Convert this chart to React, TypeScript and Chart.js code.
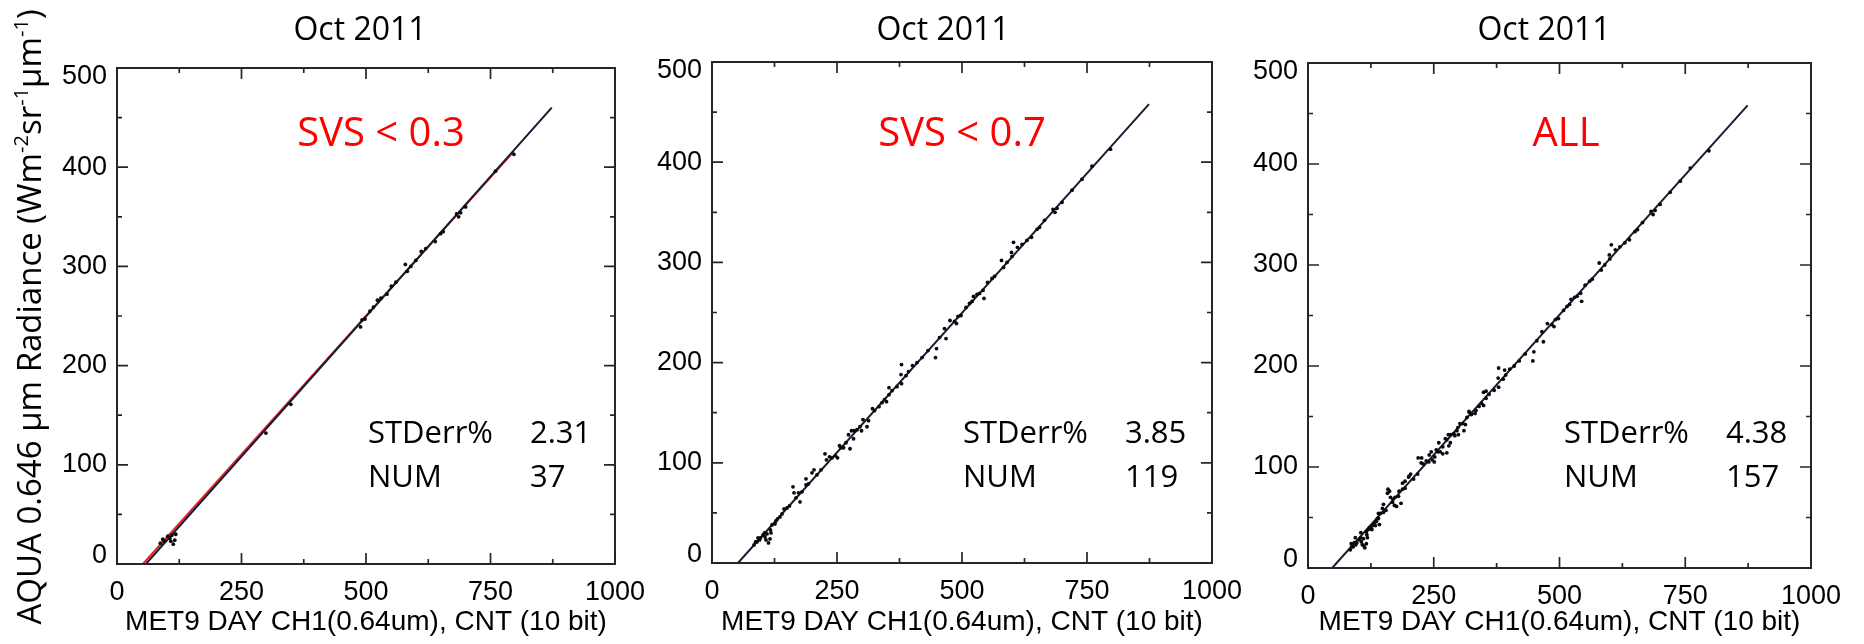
import React, { useEffect, useRef } from "react";
import { Chart, registerables } from "chart.js";

Chart.register(...registerables);

// ---------- data ----------
const xMajorTicks = [0, 250, 500, 750, 1000];
const xMinorTicks = [125, 375, 625, 875];
const yMajorTicks = [0, 100, 200, 300, 400, 500];
const yMinorTicks = [50, 150, 250, 350, 450];

const panelTitles = ["Oct 2011", "Oct 2011", "Oct 2011"];
const panelLabels = ["SVS < 0.3", "SVS < 0.7", "ALL"];
const stdErrValues = ["2.31", "3.85", "4.38"];
const numValues = ["37", "119", "157"];

const xAxisTitle = "MET9 DAY CH1(0.64um), CNT (10 bit)";
const yAxisTitleParts: [string, boolean][] = [
  ["AQUA 0.646 \u00B5m Radiance (Wm", false],
  ["-2", true],
  ["sr", false],
  ["-1", true],
  ["\u00B5m", false],
  ["-1", true],
  [")", false],
];

// points with SVS < 0.3 (37)
const svs03Points: [number, number][] = [
  [87, 21], [92, 25], [95, 23], [102, 28], [106, 26], [108, 23], [110, 29], [113, 20], [116, 24], [118, 30],
  [299, 132], [349, 161],
  [489, 239], [492, 246], [498, 247], [508, 255], [515, 259], [523, 266], [530, 268], [542, 272], [551, 280], [560, 284],
  [579, 302], [583, 295], [590, 300], [600, 306], [611, 315], [620, 318], [639, 325], [650, 333], [655, 335], [682, 353],
  [686, 350], [690, 354], [700, 360], [760, 396], [797, 413],
];

// additional points with 0.3 <= SVS < 0.7 (82)
const svs07ExtraPoints: [number, number][] = [
  [117, 33], [126, 39], [128, 42], [136, 46], [144, 54], [162, 76], [164, 70], [173, 70], [176, 61], [188, 84],
  [188, 78], [200, 90], [204, 93], [226, 109], [229, 103], [235, 106], [247, 107], [251, 105], [255, 117], [263, 115],
  [273, 128], [276, 114], [279, 132], [284, 132], [283, 124], [310, 136], [313, 142], [302, 143], [321, 154], [334, 156],
  [354, 175], [354, 168], [370, 176], [378, 188], [379, 179], [379, 198], [393, 191], [401, 197], [447, 205], [449, 214],
  [465, 234], [468, 224], [476, 242], [544, 264], [599, 310], [603, 320],
  [84, 18], [90, 21], [97, 25], [105, 30], [120, 38], [131, 44], [140, 49], [150, 55], [155, 57], [168, 65],
  [180, 71], [193, 79], [210, 88], [218, 93], [240, 105], [258, 115], [268, 120], [290, 133], [296, 136], [325, 152],
  [340, 160], [345, 163], [360, 172], [388, 187], [410, 200], [420, 205], [432, 212], [455, 225], [485, 241], [520, 261],
  [535, 269], [565, 286], [630, 322], [665, 342], [720, 372], [740, 383],
];

// additional points with SVS >= 0.7 (38)
const allExtraPoints: [number, number][] = [
  [86, 24], [94, 30], [105, 35], [111, 22], [116, 36], [122, 40], [127, 38], [134, 42], [138, 49], [142, 43],
  [140, 54], [148, 59], [150, 63], [158, 74], [159, 78], [169, 68], [172, 62], [181, 76], [185, 64], [193, 86],
  [201, 91], [219, 109], [225, 104], [241, 112], [245, 115], [252, 110], [260, 124], [268, 113], [276, 127], [280, 121],
  [292, 131], [298, 139], [308, 143], [316, 149], [320, 155], [332, 153], [349, 174], [391, 196],
];

// fitted lines
const fitSvs03: [number, number][] = [[58, 0], [873, 460]];
const redFitSvs03: [number, number][] = [[52, 0], [797, 416]];
const fitSvs07: [number, number][] = [[52, 0], [874, 458]];
const fitAll: [number, number][] = [[48, 0], [874, 458]];

// ---------- layout ----------
const PAGE_H = 644;
const AXIS_W = 117;
const RIGHT_PAD = 45;
const panelBoxes = [
  { left: 117, right: 615, top: 68, bottom: 564, titleX: 360, labelX: 381, statX: 368, valX: 530 },
  { left: 712, right: 1212, top: 62, bottom: 563, titleX: 943, labelX: 962, statX: 963, valX: 1125 },
  { left: 1308, right: 1811, top: 63, bottom: 568, titleX: 1544, labelX: 1566, statX: 1564, valX: 1726 },
];

const TICK_FONT = "'Liberation Sans', Arial, sans-serif";
const TEXT_FONT = "'Open Sans', sans-serif";

const toXY = (pts: [number, number][]) => pts.map(([x, y]) => ({ x, y }));

const framePlugin = {
  id: "frameTicks",
  afterDatasetsDraw(chart: any) {
    const { ctx, chartArea: a, scales } = chart;
    const xs = scales.x;
    const ys = scales.y;
    ctx.save();
    ctx.strokeStyle = "#262626";
    ctx.lineWidth = 2;
    ctx.strokeRect(a.left, a.top, a.right - a.left, a.bottom - a.top);
    ctx.lineWidth = 1.7;
    ctx.beginPath();
    const drawX = (vals: number[], len: number) => {
      vals.forEach((v) => {
        const px = xs.getPixelForValue(v);
        ctx.moveTo(px, a.bottom);
        ctx.lineTo(px, a.bottom - len);
        ctx.moveTo(px, a.top);
        ctx.lineTo(px, a.top + len);
      });
    };
    const drawY = (vals: number[], len: number) => {
      vals.forEach((v) => {
        const py = ys.getPixelForValue(v);
        ctx.moveTo(a.left, py);
        ctx.lineTo(a.left + len, py);
        ctx.moveTo(a.right, py);
        ctx.lineTo(a.right - len, py);
      });
    };
    drawX(xMajorTicks, 11);
    drawX(xMinorTicks, 5);
    drawY(yMajorTicks, 11);
    drawY(yMinorTicks, 5);
    ctx.stroke();
    ctx.restore();
  },
};

const innerLabelPlugin = {
  id: "innerYLabels",
  beforeDraw(chart: any) {
    const ys = chart.scales.y;
    const items = ys.getLabelItems(chart.chartArea);
    if (!items || !items.length) return;
    const first = items[0];
    const last = items[items.length - 1];
    if (!first._shifted) {
      first.options.translation[1] -= 8;
      first._shifted = true;
    }
    if (!last._shifted) {
      last.options.translation[1] += 9;
      last._shifted = true;
    }
  },
};

const annotPlugin = {
  id: "annot",
  afterDraw(chart: any, _args: any, opts: any) {
    const idx = opts.idx as number;
    const box = panelBoxes[idx];
    const off = box.left - AXIS_W;
    const ctx = chart.ctx;
    ctx.save();
    ctx.textBaseline = "alphabetic";
    // title
    ctx.fillStyle = "#000";
    ctx.font = `32px ${TEXT_FONT}`;
    ctx.textAlign = "center";
    ctx.fillText(panelTitles[idx], box.titleX - off, 40);
    // red label
    ctx.fillStyle = "#ff0000";
    ctx.font = `40px ${TEXT_FONT}`;
    ctx.fillText(panelLabels[idx], box.labelX - off, 146);
    // stats
    ctx.fillStyle = "#000";
    ctx.font = `31px ${TEXT_FONT}`;
    ctx.textAlign = "left";
    ctx.fillText("STDerr%", box.statX - off, 443);
    ctx.fillText(stdErrValues[idx], box.valX - off, 443);
    ctx.fillText("NUM", box.statX - off, 487);
    ctx.fillText(numValues[idx], box.valX - off, 487);
    // y title (first panel only)
    if (idx === 0) {
      const mainFont = `33px ${TEXT_FONT}`;
      const supFont = `20px ${TEXT_FONT}`;
      let total = 0;
      const widths = yAxisTitleParts.map(([t, sup]) => {
        ctx.font = sup ? supFont : mainFont;
        const w = ctx.measureText(t).width;
        total += w;
        return w;
      });
      ctx.translate(41 - off, 317);
      ctx.rotate(-Math.PI / 2);
      let x = -total / 2;
      yAxisTitleParts.forEach(([t, sup], i) => {
        ctx.font = sup ? supFont : mainFont;
        ctx.fillText(t, x, sup ? -13 : 0);
        x += widths[i];
      });
    }
    ctx.restore();
  },
};

function Panel({ idx }: { idx: number }) {
  const ref = useRef<HTMLCanvasElement>(null);
  const box = panelBoxes[idx];
  const canvasLeft = box.left - AXIS_W;
  const canvasW = AXIS_W + (box.right - box.left) + RIGHT_PAD;

  useEffect(() => {
    if (!ref.current) return;
    let pts: [number, number][] = svs03Points;
    if (idx >= 1) pts = pts.concat(svs07ExtraPoints);
    if (idx >= 2) pts = pts.concat(allExtraPoints);
    const fit = idx === 0 ? fitSvs03 : idx === 1 ? fitSvs07 : fitAll;

    const datasets: any[] = [
      {
        label: "points",
        data: toXY(pts),
        pointRadius: 1.9,
        pointBackgroundColor: "#0a0a0a",
        pointBorderWidth: 0,
        showLine: false,
      },
      {
        label: "fit",
        data: toXY(fit),
        showLine: true,
        borderColor: "#141c36",
        borderWidth: 2,
        pointRadius: 0,
        fill: false,
      },
    ];
    if (idx === 0) {
      datasets.push({
        label: "fit red",
        data: toXY(redFitSvs03),
        showLine: true,
        borderColor: "#ee2222",
        borderWidth: 2,
        pointRadius: 0,
        fill: false,
      });
    }

    const tickFont = { family: TICK_FONT, size: 27 };
    const chart = new Chart(ref.current, {
      type: "scatter",
      data: { datasets },
      plugins: [framePlugin, innerLabelPlugin, annotPlugin],
      options: {
        animation: false,
        responsive: false,
        maintainAspectRatio: false,
        events: [],
        layout: { padding: { top: box.top, right: RIGHT_PAD, left: 0, bottom: 0 } },
        plugins: {
          legend: { display: false },
          tooltip: { enabled: false },
          title: { display: false },
          annot: { idx },
        } as any,
        scales: {
          x: {
            type: "linear",
            position: "bottom",
            min: 0,
            max: 1000,
            grid: { display: false, drawTicks: false },
            border: { display: false },
            ticks: {
              stepSize: 250,
              font: tickFont,
              color: "#000",
              padding: 12,
              maxRotation: 0,
              autoSkip: false,
              callback: (v: any) => String(v),
            },
            title: {
              display: true,
              text: xAxisTitle,
              font: { family: TICK_FONT, size: 28 },
              color: "#000",
              padding: { top: 0, bottom: 5 },
            },
            afterFit: (s: any) => {
              s.height = PAGE_H - box.bottom;
            },
          },
          y: {
            type: "linear",
            position: "left",
            min: 0,
            max: 500,
            grid: { display: false, drawTicks: false },
            border: { display: false },
            ticks: {
              stepSize: 100,
              font: tickFont,
              color: "#000",
              padding: 10,
              autoSkip: false,
              callback: (v: any) => String(v),
            },
            afterFit: (s: any) => {
              s.width = AXIS_W;
            },
          },
        },
      } as any,
    });
    return () => chart.destroy();
  }, [idx]);

  return (
    <canvas
      ref={ref}
      width={canvasW}
      height={PAGE_H}
      style={{ position: "absolute", left: canvasLeft, top: 0, width: canvasW, height: PAGE_H }}
    />
  );
}

export default function App() {
  return (
    <div
      style={{
        position: "fixed",
        left: 0,
        top: 0,
        width: 1864,
        height: PAGE_H,
        background: "#fff",
        overflow: "hidden",
      }}
    >
      {[0, 1, 2].map((i) => (
        <Panel key={i} idx={i} />
      ))}
    </div>
  );
}
